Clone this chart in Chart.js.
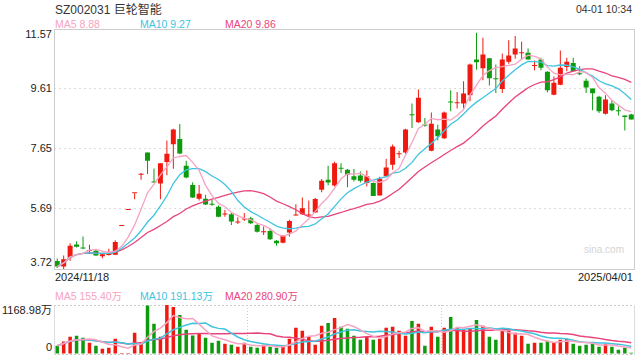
<!DOCTYPE html>
<html>
<head>
<meta charset="utf-8">
<script src="https://cdn.jsdelivr.net/npm/chart.js@4.4.1/dist/chart.umd.min.js"></script>
<style>
    body { margin: 0; width: 640px; height: 360px; background: #fff; position: relative; overflow: hidden;
           font-family: "Liberation Sans", Arial, "Noto Sans CJK SC", sans-serif; }
    .t { position: absolute; white-space: nowrap; line-height: 1; color: #222; }
    canvas { position: absolute; left: 0; }
</style>
</head>
<body>
<div class="t" style="left:55px;top:4px;font-size:12px;color:#333">SZ002031 巨轮智能</div>
<div class="t" style="right:8px;top:4px;font-size:10.5px;color:#333">04-01 10:34</div>
<div class="t" style="right:16px;top:245px;font-size:10px;color:#d4d4d4">sina.com</div>
<div id="legendMain"></div>
<div id="legendVol"></div>
<div id="labels"></div>
<canvas id="kline" width="640" height="280" style="top:0"></canvas>
<canvas id="vol" width="640" height="70" style="top:290px"></canvas>

<script>
const dates = [
    "2024/11/18", "2024/11/19", "2024/11/20", "2024/11/21", "2024/11/22", "2024/11/25", "2024/11/26", "2024/11/27", "2024/11/28", "2024/11/29",
    "2024/12/02", "2024/12/03", "2024/12/04", "2024/12/05", "2024/12/06", "2024/12/09", "2024/12/10", "2024/12/11", "2024/12/12", "2024/12/13",
    "2024/12/16", "2024/12/17", "2024/12/18", "2024/12/19", "2024/12/20", "2024/12/23", "2024/12/24", "2024/12/25", "2024/12/26", "2024/12/27",
    "2024/12/30", "2024/12/31", "2025/01/02", "2025/01/03", "2025/01/06", "2025/01/07", "2025/01/08", "2025/01/09", "2025/01/10", "2025/01/13",
    "2025/01/14", "2025/01/15", "2025/01/16", "2025/01/17", "2025/01/20", "2025/01/21", "2025/01/22", "2025/01/23", "2025/01/24", "2025/01/27",
    "2025/02/05", "2025/02/06", "2025/02/07", "2025/02/10", "2025/02/11", "2025/02/12", "2025/02/13", "2025/02/14", "2025/02/17", "2025/02/18",
    "2025/02/19", "2025/02/20", "2025/02/21", "2025/02/24", "2025/02/25", "2025/02/26", "2025/02/27", "2025/02/28", "2025/03/03", "2025/03/04",
    "2025/03/05", "2025/03/06", "2025/03/07", "2025/03/10", "2025/03/11", "2025/03/12", "2025/03/13", "2025/03/14", "2025/03/17", "2025/03/18",
    "2025/03/19", "2025/03/20", "2025/03/21", "2025/03/24", "2025/03/25", "2025/03/26", "2025/03/27", "2025/03/28", "2025/03/31", "2025/04/01"
];

const openP = [
    3.98, 3.80, 4.10, 4.52, 4.42, 4.31, 4.32, 4.14, 4.18, 4.19,
    5.13, 5.65, 6.20, 6.80, 7.53, 6.57, 6.52, 7.22, 7.80, 7.97,
    7.10, 6.47, 6.02, 6.02, 5.85, 5.76, 5.50, 5.51, 5.24, 5.34,
    5.38, 5.16, 4.92, 4.96, 4.64, 4.58, 4.91, 5.47, 5.51, 5.47,
    5.57, 6.31, 6.64, 6.45, 7.02, 6.97, 6.75, 6.78, 6.53, 6.53,
    6.12, 6.75, 7.13, 7.47, 7.53, 8.77, 8.52, 8.42, 7.59, 8.28,
    8.00, 9.18, 9.14, 9.13, 9.40, 10.57, 10.29, 10.61, 9.96, 9.61,
    10.50, 10.74, 10.78, 10.79, 10.36, 10.57, 10.17, 9.42, 9.75, 10.33,
    10.46, 10.12, 9.88, 9.62, 9.35, 8.80, 9.13, 8.89, 8.74, 8.77
];
const closeP = [
    3.80, 4.04, 4.48, 4.45, 4.39, 4.33, 4.16, 4.20, 4.23, 4.60,
    5.13, 5.65, 6.20, 6.81, 7.26, 6.55, 7.18, 7.49, 8.28, 7.50,
    6.71, 6.06, 6.18, 5.83, 5.82, 5.43, 5.53, 5.27, 5.27, 5.37,
    5.22, 4.94, 4.94, 4.69, 4.56, 4.81, 5.29, 5.49, 5.71, 5.49,
    6.01, 6.61, 6.55, 7.18, 7.00, 6.80, 6.64, 6.61, 6.75, 6.11,
    6.67, 7.04, 7.73, 7.50, 8.28, 8.75, 9.32, 8.41, 8.47, 8.06,
    8.84, 9.17, 9.16, 9.46, 10.41, 10.48, 10.74, 9.96, 9.93, 10.57,
    10.70, 10.93, 10.79, 10.57, 10.38, 10.30, 9.57, 9.81, 10.30, 10.50,
    10.19, 10.09, 9.66, 9.47, 8.88, 9.26, 8.91, 8.88, 8.69, 8.61
];
const highP = [
    4.06, 4.16, 4.56, 4.63, 4.78, 4.51, 4.37, 4.23, 4.38, 4.66,
    5.13, 5.65, 6.20, 6.86, 7.53, 7.01, 7.18, 7.92, 8.31, 8.46,
    7.26, 6.56, 6.47, 6.15, 5.98, 5.80, 5.65, 5.55, 5.41, 5.55,
    5.43, 5.20, 5.11, 5.05, 4.67, 4.83, 5.33, 5.84, 6.06, 5.96,
    6.04, 6.66, 7.10, 7.23, 7.18, 6.99, 6.99, 6.91, 6.94, 6.55,
    6.74, 7.33, 7.79, 7.59, 8.31, 9.13, 9.59, 8.66, 8.84, 8.44,
    8.87, 9.57, 9.51, 9.86, 10.44, 11.45, 11.28, 10.61, 10.41, 10.77,
    11.20, 11.34, 11.15, 10.93, 10.54, 10.63, 10.19, 10.02, 10.87, 10.63,
    10.63, 10.35, 9.95, 9.62, 9.39, 9.40, 9.23, 9.04, 8.74, 8.80
];
const lowP = [
    3.75, 3.72, 3.99, 4.42, 4.37, 4.21, 4.15, 4.07, 4.16, 4.18,
    5.13, 5.65, 6.00, 6.64, 6.83, 6.55, 6.00, 6.79, 7.00, 7.47,
    6.69, 6.04, 5.96, 5.81, 5.79, 5.41, 5.43, 5.16, 5.19, 5.29,
    5.19, 4.91, 4.83, 4.67, 4.48, 4.56, 4.78, 5.47, 5.49, 5.43,
    5.55, 6.23, 6.46, 6.42, 6.86, 6.39, 6.58, 6.55, 6.42, 6.11,
    6.12, 6.73, 6.97, 7.35, 7.49, 8.33, 8.50, 8.37, 7.57, 7.93,
    7.97, 8.88, 8.97, 8.97, 9.21, 10.24, 9.89, 9.72, 9.48, 9.48,
    10.43, 10.60, 10.57, 10.57, 10.22, 10.22, 9.50, 9.40, 9.73, 10.19,
    10.17, 10.06, 9.48, 8.91, 8.82, 8.77, 8.88, 8.74, 8.25, 8.61
];
// 成交量，单位：万股
const volumes = [
    197, 300, 411, 434, 387, 269, 197, 126, 150, 363,
    24, 24, 505, 284, 1160, 719, 411, 1168.98, 1121, 932,
    577, 442, 490, 387, 269, 316, 245, 221, 174, 269,
    174, 150, 221, 174, 150, 174, 363, 624, 553, 411,
    221, 672, 742, 861, 648, 600, 434, 340, 411, 340,
    363, 624, 648, 553, 434, 790, 719, 197, 648, 411,
    624, 885, 624, 577, 600, 814, 672, 411, 340, 577,
    553, 505, 434, 245, 269, 269, 316, 269, 340, 363,
    245, 197, 221, 245, 174, 245, 174, 103, 150, 32
];

const priceTicks = [3.72, 5.69, 7.65, 9.61, 11.57];
const priceTickLabels = ["3.72", "5.69", "7.65", "9.61", "11.57"];
const volTicks = [0, 1168.98];
const volTickLabels = ["0", "1168.98万"];
const maNames = ["MA5", "MA10", "MA20"];
const maPeriods = [5, 10, 20];
const maPriceTexts = ["MA5 8.88", "MA10 9.27", "MA20 9.86"];
const maVolTexts = ["MA5 155.40万", "MA10 191.13万", "MA20 280.90万"];
const maColors = ["#f7a3c1", "#3ec4e0", "#e8457b"];

const UP = "#f0190f";
const DOWN = "#0d9b0d";

function movingAvg(src, n) {
    return src.map((_, i) => {
        const part = src.slice(Math.max(0, i - n + 1), i + 1);
        return part.reduce((s, v) => s + v, 0) / part.length;
    });
}

const candleColors = closeP.map((c, i) => (c >= openP[i] ? UP : DOWN));

// 绘图区外框
const framePlugin = {
    id: "frame",
    afterDraw(chart, args, opts) {
        const { ctx, chartArea: a } = chart;
        const l = Math.floor(a.left) + 0.5;
        const r = Math.floor(a.right) + 0.5;
        const t = Math.floor(a.top) + 0.5;
        const b = Math.floor(a.bottom) + 0.5;

        ctx.save();
        ctx.strokeStyle = opts.color;
        ctx.lineWidth = 1;
        ctx.beginPath();
        if (opts.full) {
            ctx.rect(l, t, r - l, b - t);
        } else {
            ctx.moveTo(l, t); ctx.lineTo(l, b);
            ctx.moveTo(r, t); ctx.lineTo(r, b);
        }
        ctx.stroke();
        ctx.restore();
    }
};

const hiddenX = {
    display: false,
    offset: true
};

const kline = new Chart(document.getElementById("kline"), {
    type: "bar",
    data: {
        labels: dates,
        datasets: [
            ...maNames.map((name, k) => ({
                type: "line",
                label: name,
                data: movingAvg(closeP, maPeriods[k]),
                borderColor: maColors[k],
                borderWidth: 1.3,
                pointRadius: 0,
                order: 0
            })),
            {
                label: "wick",
                data: lowP.map((l, i) => [l, highP[i]]),
                backgroundColor: candleColors,
                barThickness: 1,
                minBarLength: 1,
                grouped: false,
                inflateAmount: 0,
                order: 2
            },
            {
                label: "body",
                data: openP.map((o, i) => [o, closeP[i]]),
                backgroundColor: candleColors,
                barThickness: 5,
                minBarLength: 1,
                grouped: false,
                inflateAmount: 0,
                order: 1
            }
        ]
    },
    options: {
        responsive: false,
        animation: false,
        events: [],
        layout: { autoPadding: false, padding: { left: 54, right: 5.5, top: 29, bottom: 11 } },
        plugins: { legend: { display: false }, tooltip: { enabled: false }, frame: { color: "#cccccc", full: true } },
        scales: {
            x: hiddenX,
            y: {
                min: priceTicks[0],
                max: priceTicks[priceTicks.length - 1],
                afterBuildTicks: scale => { scale.ticks = priceTicks.map(v => ({ value: v })); },
                afterFit: scale => { scale.width = 0; },
                ticks: { display: false },
                grid: { drawTicks: false, color: "#dddddd", lineWidth: 1 },
                border: { display: false, dash: [2, 3] }
            }
        }
    },
    plugins: [framePlugin]
});

const vol = new Chart(document.getElementById("vol"), {
    type: "bar",
    data: {
        labels: dates,
        datasets: [
            ...maNames.map((name, k) => ({
                type: "line",
                label: name,
                data: movingAvg(volumes, maPeriods[k]),
                borderColor: maColors[k],
                borderWidth: 1.5,
                pointRadius: 0,
                order: 0
            })),
            {
                label: "成交量",
                data: volumes,
                backgroundColor: candleColors,
                barThickness: 3.5,
                inflateAmount: 0,
                order: 1
            }
        ]
    },
    options: {
        responsive: false,
        animation: false,
        events: [],
        layout: { autoPadding: false, padding: { left: 54, right: 5.5, top: 15, bottom: 6 } },
        plugins: { legend: { display: false }, tooltip: { enabled: false }, frame: { color: "#dddddd", full: false } },
        scales: {
            x: {
                display: true,
                offset: true,
                afterFit: scale => { scale.height = 0; },
                ticks: { display: false },
                grid: {
                    drawTicks: false,
                    offset: true,
                    color: c => (c.index === 30 || c.index === 60 ? "#cccccc" : "rgba(0,0,0,0)")
                },
                border: { display: false, dash: [1, 2] }
            },
            y: {
                min: volTicks[0],
                max: volTicks[1],
                afterBuildTicks: scale => { scale.ticks = volTicks.map(v => ({ value: v })); },
                afterFit: scale => { scale.width = 0; },
                ticks: { display: false },
                grid: { drawTicks: false, color: "#cccccc" },
                border: { display: false, dash: [2, 2] }
            }
        }
    },
    plugins: [framePlugin]
});

// 文字标签（HTML）
function addText(parent, text, style) {
    const d = document.createElement("div");
    d.className = "t";
    d.textContent = text;
    Object.assign(d.style, style);
    parent.appendChild(d);
    return d;
}

const legendX = [55, 140, 225];
const legendMain = document.getElementById("legendMain");
const legendVol = document.getElementById("legendVol");
maPriceTexts.forEach((txt, k) => {
    addText(legendMain, txt, { left: legendX[k] + "px", top: "19px", fontSize: "10.5px", color: maColors[k] });
    addText(legendVol, maVolTexts[k], { left: legendX[k] + "px", top: "291px", fontSize: "10.5px", color: maColors[k] });
});

const labelBox = document.getElementById("labels");

function axisLabels(chart, ticks, texts, offsetTop) {
    const y = chart.scales.y;
    ticks.forEach((v, i) => {
        const py = y.getPixelForValue(v) + offsetTop;
        let top;
        if (i === 0) top = py - 12;
        else if (i === ticks.length - 1) top = py;
        else top = py - 6;
        addText(labelBox, texts[i], { right: (640 - 52) + "px", top: top + "px", fontSize: "11px" });
    });
}

axisLabels(kline, priceTicks, priceTickLabels, 0);
axisLabels(vol, volTicks, volTickLabels, 290);

addText(labelBox, dates[0], { left: "55px", top: "272px", fontSize: "11px" });
addText(labelBox, dates[dates.length - 1], { right: "7px", top: "272px", fontSize: "11px" });
</script>
</body>
</html>
